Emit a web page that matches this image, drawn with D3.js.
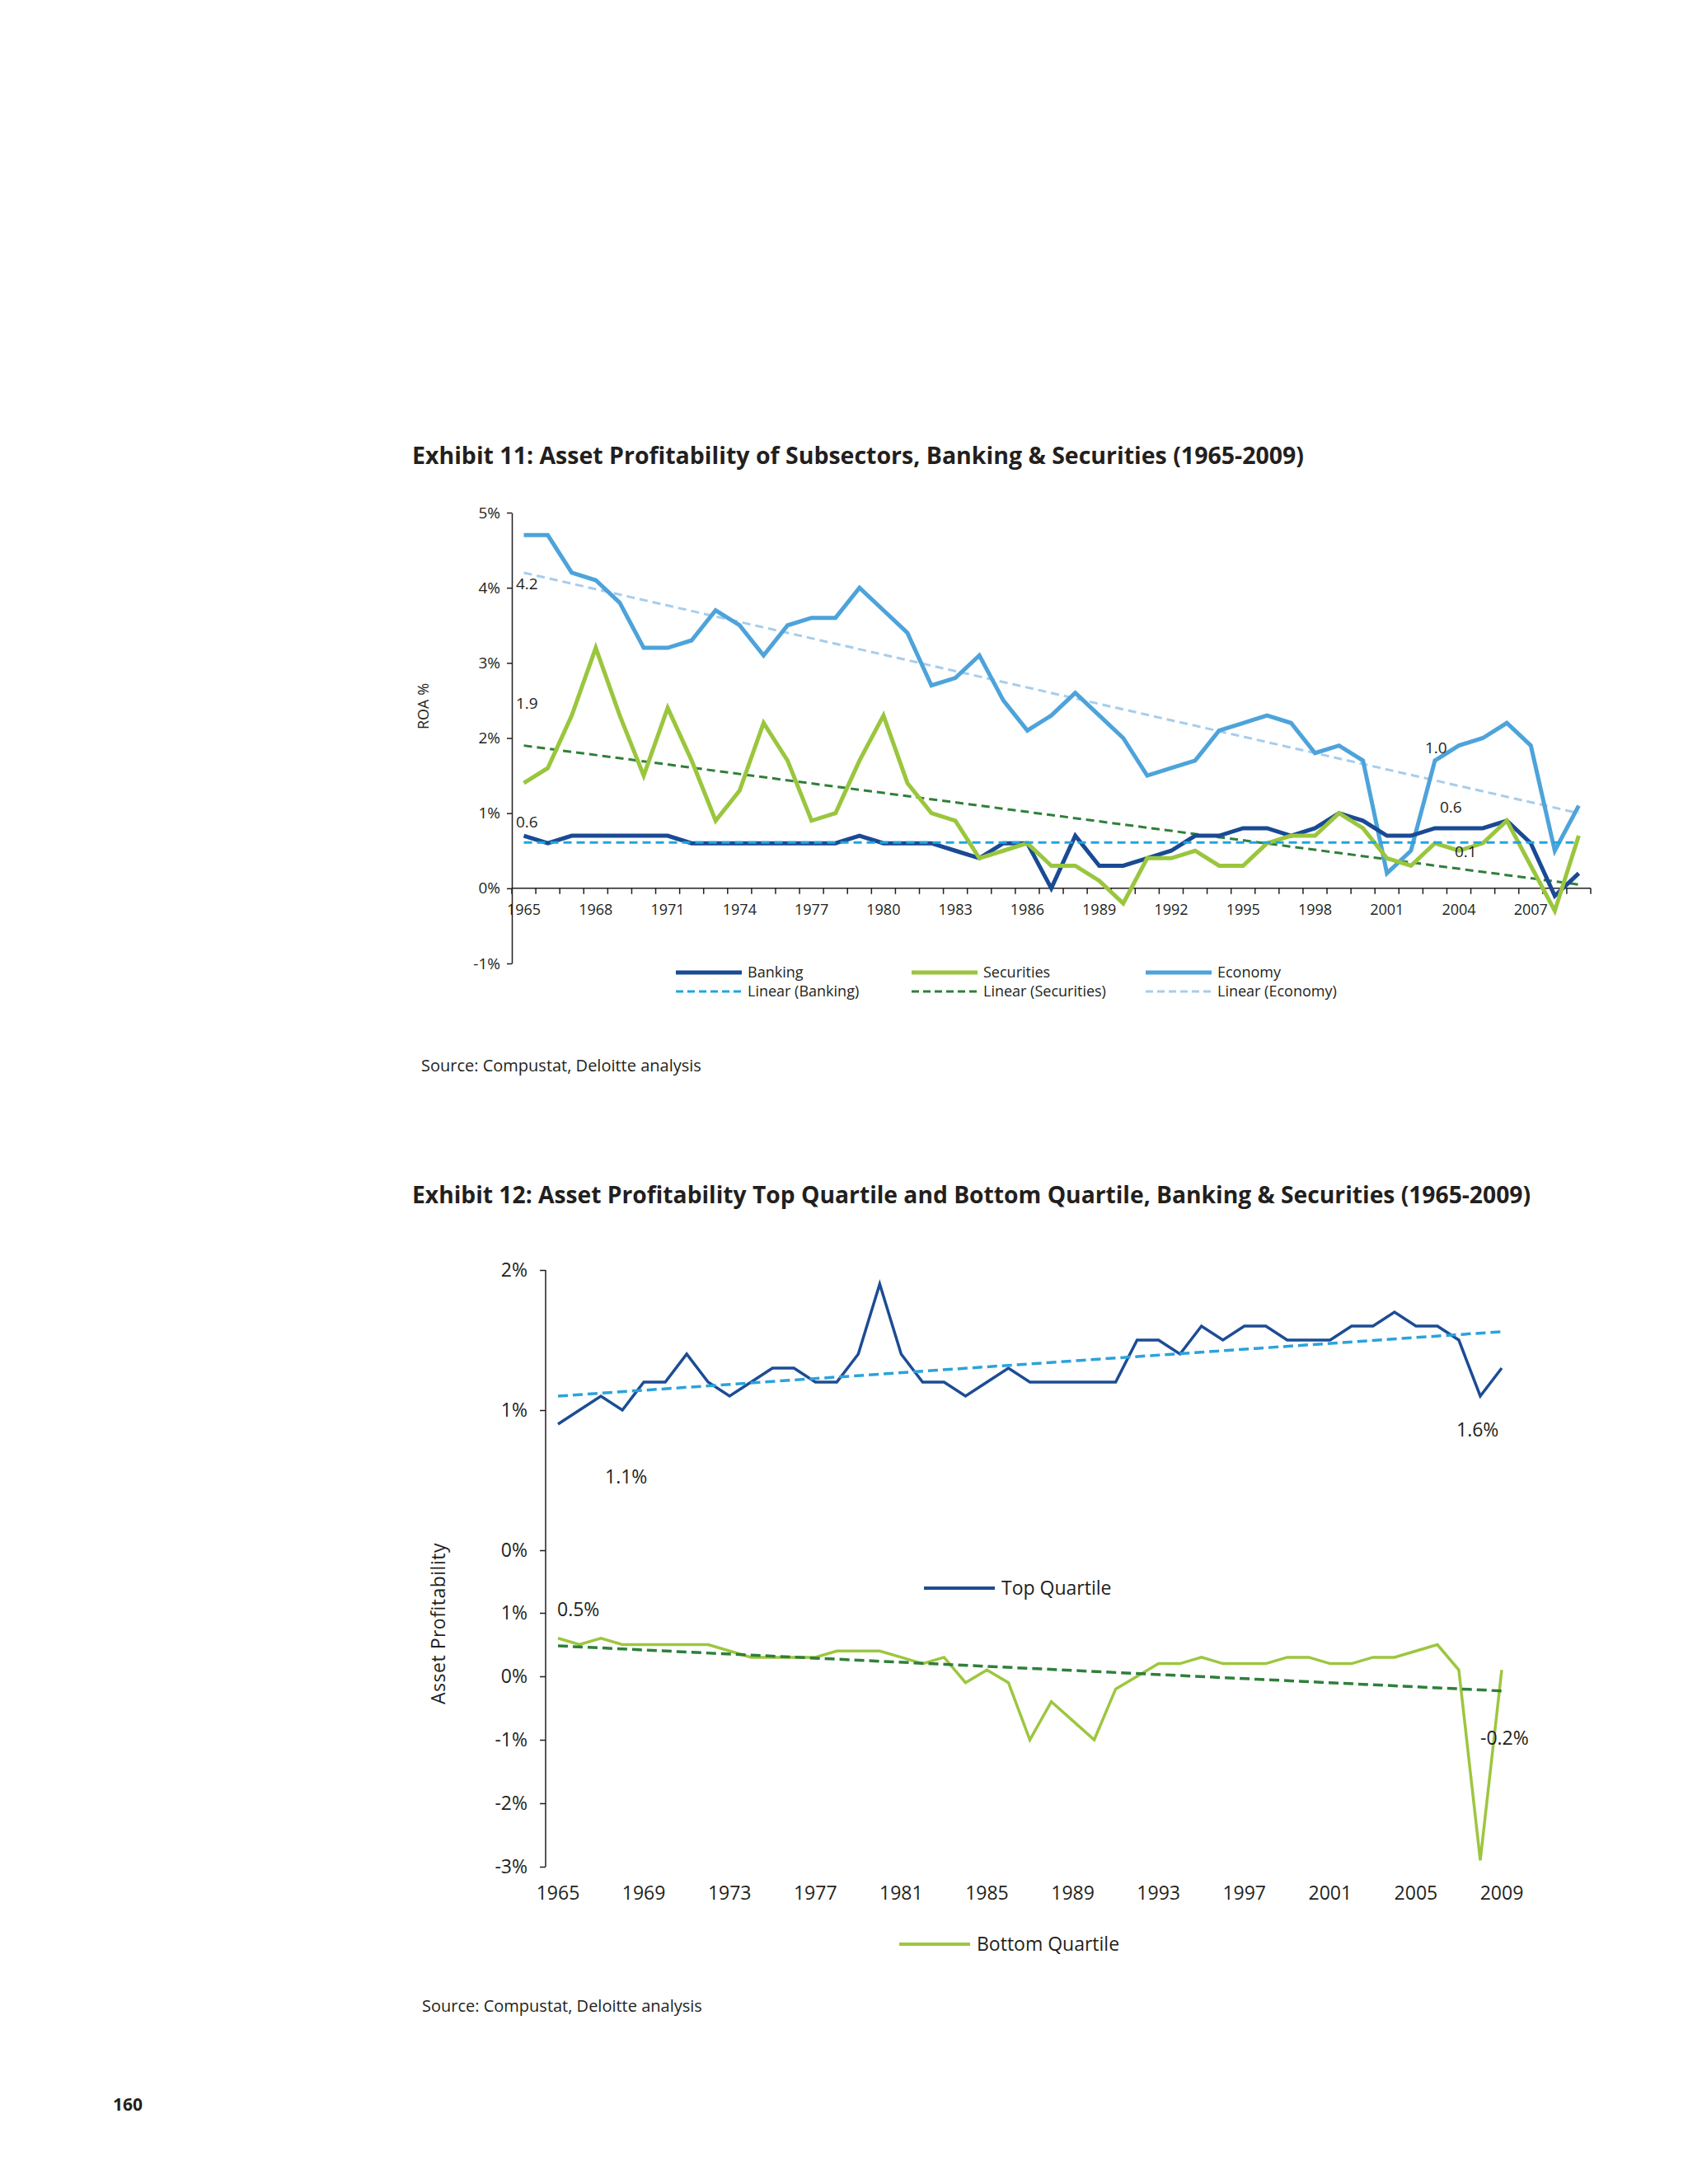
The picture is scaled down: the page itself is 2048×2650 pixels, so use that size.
<!DOCTYPE html>
<html>
<head>
<meta charset="utf-8">
<script src="https://cdn.jsdelivr.net/npm/d3@7/dist/d3.min.js"></script>
<style>
  html, body { margin: 0; padding: 0; background: #ffffff; }
  svg { display: block; }
  text { font-family: "Open Sans", "Liberation Sans", sans-serif; fill: #231f20; }
  .lt { font-weight: 400; }
</style>
</head>
<body>
<script>
// ---------------- DATA ----------------
const years = [1965,1966,1967,1968,1969,1970,1971,1972,1973,1974,
               1975,1976,1977,1978,1979,1980,1981,1982,1983,1984,
               1985,1986,1987,1988,1989,1990,1991,1992,1993,1994,
               1995,1996,1997,1998,1999,2000,2001,2002,2003,2004,
               2005,2006,2007,2008,2009];

// Exhibit 11 (ROA %)
const banking = [0.7,0.6,0.7,0.7,0.7,0.7,0.7,0.6,0.6,0.6,
                 0.6,0.6,0.6,0.6,0.7,0.6,0.6,0.6,0.5,0.4,
                 0.6,0.6,0.0,0.7,0.3,0.3,0.4,0.5,0.7,0.7,
                 0.8,0.8,0.7,0.8,1.0,0.9,0.7,0.7,0.8,0.8,
                 0.8,0.9,0.6,-0.1,0.2];
const securities = [1.4,1.6,2.3,3.2,2.3,1.5,2.4,1.7,0.9,1.3,
                    2.2,1.7,0.9,1.0,1.7,2.3,1.4,1.0,0.9,0.4,
                    0.5,0.6,0.3,0.3,0.1,-0.2,0.4,0.4,0.5,0.3,
                    0.3,0.6,0.7,0.7,1.0,0.8,0.4,0.3,0.6,0.5,
                    0.6,0.9,0.3,-0.3,0.7];
const economy = [4.7,4.7,4.2,4.1,3.8,3.2,3.2,3.3,3.7,3.5,
                 3.1,3.5,3.6,3.6,4.0,3.7,3.4,2.7,2.8,3.1,
                 2.5,2.1,2.3,2.6,2.3,2.0,1.5,1.6,1.7,2.1,
                 2.2,2.3,2.2,1.8,1.9,1.7,0.2,0.5,1.7,1.9,
                 2.0,2.2,1.9,0.5,1.1];
// linear trend end points (1965, 2009)
const bankingTrend = [0.61, 0.61];
const securitiesTrend = [1.9, 0.05];
const economyTrend = [4.2, 1.0];
const roaTicks = [-1,0,1,2,3,4,5];
const yearLabels11 = [1965,1968,1971,1974,1977,1980,1983,1986,1989,1992,1995,1998,2001,2004,2007];

// Exhibit 12 (Asset profitability %)
const topQuartile = [0.9,1.0,1.1,1.0,1.2,1.2,1.4,1.2,1.1,1.2,
                     1.3,1.3,1.2,1.2,1.4,1.9,1.4,1.2,1.2,1.1,
                     1.2,1.3,1.2,1.2,1.2,1.2,1.2,1.5,1.5,1.4,
                     1.6,1.5,1.6,1.6,1.5,1.5,1.5,1.6,1.6,1.7,
                     1.6,1.6,1.5,1.1,1.3];
const bottomQuartile = [0.6,0.5,0.6,0.5,0.5,0.5,0.5,0.5,0.4,0.3,
                        0.3,0.3,0.3,0.4,0.4,0.4,0.3,0.2,0.3,-0.1,
                        0.1,-0.1,-1.0,-0.4,-0.7,-1.0,-0.2,0.0,0.2,0.2,
                        0.3,0.2,0.2,0.2,0.3,0.3,0.2,0.2,0.3,0.3,
                        0.4,0.5,0.1,-2.9,0.1];
const topTrend = [1.1, 1.56];
const bottomTrend = [0.48, -0.23];
const topTicks = [0,1,2];
const bottomTicks = [-3,-2,-1,0,1];
const yearLabels12 = [1965,1969,1973,1977,1981,1985,1989,1993,1997,2001,2005,2009];

// ---------------- DRAW ----------------
const W = 2048, H = 2650;
const svg = d3.select("body").append("svg").attr("width", W).attr("height", H);
svg.append("rect").attr("width", W).attr("height", H).attr("fill", "#ffffff");

const C = {
  banking: "#1a4a94", securities: "#9ac63e", economy: "#4da3da",
  linBanking: "#1ea6df", linSecurities: "#2f7f3a", linEconomy: "#a7cdec",
  top: "#1c4c94", topTrend: "#2ba3db", bottom: "#9dc63f", bottomTrend: "#2f7f3a"
};
const pct = d => d + "%";

// ===== Exhibit 11 =====
svg.append("text").attr("x", 500).attr("y", 553).attr("dy", "0.35em")
  .attr("font-size", 28).attr("font-weight", 700)
  .attr("textLength", 1082).attr("lengthAdjust", "spacingAndGlyphs")
  .text("Exhibit 11: Asset Profitability of Subsectors, Banking & Securities (1965-2009)");

const x1 = d3.scaleBand().domain(years).range([621, 1930]).paddingInner(0).paddingOuter(0);
const y1 = d3.scaleLinear().domain([-1, 5]).range([1169, 622]);
const cx1 = d => x1(d) + x1.bandwidth() / 2;

// y axis
const yAx1 = svg.append("g").attr("transform", "translate(621,0)")
  .call(d3.axisLeft(y1).tickValues(roaTicks).tickFormat(pct).tickSize(6).tickSizeOuter(0));
yAx1.select(".domain").attr("stroke", "#231f20").attr("stroke-width", 1.5);
yAx1.selectAll(".tick line").attr("stroke", "#231f20").attr("stroke-width", 1.5);
yAx1.selectAll(".tick text").attr("class", "lt").attr("font-size", 19).attr("x", -14).attr("fill", "#231f20")
  .style("font-family", '"Open Sans", sans-serif');

// x axis at 0%
const xAx1 = svg.append("g").attr("transform", `translate(0,${y1(0)})`);
xAx1.append("line").attr("x1", x1.range()[0]).attr("x2", x1.range()[1])
  .attr("stroke", "#231f20").attr("stroke-width", 1.5);
const edges1 = years.map(d => x1(d)).concat([x1.range()[1]]);
xAx1.selectAll("line.tk").data(edges1).join("line").attr("class", "tk")
  .attr("x1", d => d).attr("x2", d => d).attr("y1", 0).attr("y2", 7)
  .attr("stroke", "#231f20").attr("stroke-width", 1.5);
xAx1.selectAll("text.yl").data(yearLabels11).join("text").attr("class", "yl lt")
  .attr("x", d => cx1(d)).attr("y", 26).attr("dy", "0.35em")
  .attr("text-anchor", "middle").attr("font-size", 18).text(d => d);

svg.append("text").attr("class", "lt").attr("transform", "translate(514,857) rotate(-90)")
  .attr("text-anchor", "middle").attr("dy", "0.35em").attr("font-size", 18).text("ROA %");

const line1 = d3.line().x((d, i) => cx1(years[i])).y(d => y1(d));
const trend1 = arr => [[years[0], arr[0]], [years[years.length - 1], arr[1]]];
const tline1 = d3.line().x(d => cx1(d[0])).y(d => y1(d[1]));

const g1 = svg.append("g");
g1.append("path").datum(trend1(economyTrend)).attr("d", tline1).attr("fill", "none")
  .attr("stroke", C.linEconomy).attr("stroke-width", 3).attr("stroke-dasharray", "10,6");
g1.append("path").datum(trend1(securitiesTrend)).attr("d", tline1).attr("fill", "none")
  .attr("stroke", C.linSecurities).attr("stroke-width", 3).attr("stroke-dasharray", "10,6");
g1.append("path").datum(economy).attr("d", line1).attr("fill", "none")
  .attr("stroke", C.economy).attr("stroke-width", 5).attr("stroke-linejoin", "miter");
g1.append("path").datum(banking).attr("d", line1).attr("fill", "none")
  .attr("stroke", C.banking).attr("stroke-width", 5);
g1.append("path").datum(securities).attr("d", line1).attr("fill", "none")
  .attr("stroke", C.securities).attr("stroke-width", 5);
g1.append("path").datum(trend1(bankingTrend)).attr("d", tline1).attr("fill", "none")
  .attr("stroke", C.linBanking).attr("stroke-width", 3).attr("stroke-dasharray", "10,6");

// annotations
const ann1 = [
  {t: "4.2", x: 626, y: 708},
  {t: "1.9", x: 626, y: 853},
  {t: "0.6", x: 626, y: 997},
  {t: "1.0", x: 1729, y: 907},
  {t: "0.6", x: 1747, y: 979},
  {t: "0.1", x: 1765, y: 1033}
];
svg.selectAll("text.ann1").data(ann1).join("text").attr("class", "ann1 lt")
  .attr("x", d => d.x).attr("y", d => d.y).attr("dy", "0.35em")
  .attr("font-size", 19).text(d => d.t);

// legend 11
const leg1 = [
  {t: "Banking", c: C.banking, dash: null, x: 820, y: 1180},
  {t: "Securities", c: C.securities, dash: null, x: 1106, y: 1180},
  {t: "Economy", c: C.economy, dash: null, x: 1390, y: 1180},
  {t: "Linear (Banking)", c: C.linBanking, dash: "9,5", x: 820, y: 1203},
  {t: "Linear (Securities)", c: C.linSecurities, dash: "9,5", x: 1106, y: 1203},
  {t: "Linear (Economy)", c: C.linEconomy, dash: "9,5", x: 1390, y: 1203}
];
const lg1 = svg.selectAll("g.lg1").data(leg1).join("g").attr("class", "lg1");
lg1.append("line").attr("x1", d => d.x).attr("x2", d => d.x + 80)
  .attr("y1", d => d.y).attr("y2", d => d.y)
  .attr("stroke", d => d.c).attr("stroke-width", d => d.dash ? 3 : 5)
  .attr("stroke-dasharray", d => d.dash);
lg1.append("text").attr("class", "lt").attr("x", d => d.x + 87).attr("y", d => d.y).attr("dy", "0.35em")
  .attr("font-size", 18).text(d => d.t);

svg.append("text").attr("class", "lt").attr("x", 511).attr("y", 1293).attr("dy", "0.35em")
  .attr("font-size", 20).text("Source: Compustat, Deloitte analysis");

// ===== Exhibit 12 =====
svg.append("text").attr("x", 500).attr("y", 1450).attr("dy", "0.35em")
  .attr("font-size", 28).attr("font-weight", 700)
  .attr("textLength", 1357).attr("lengthAdjust", "spacingAndGlyphs")
  .text("Exhibit 12: Asset Profitability Top Quartile and Bottom Quartile, Banking & Securities (1965-2009)");

const x2 = d3.scalePoint().domain(years).range([677, 1822]);
const yTop = d3.scaleLinear().domain([0, 2]).range([1881, 1541]);
const yBot = d3.scaleLinear().domain([-3, 1]).range([2265, 1957]);

const axX2 = 662;
svg.append("line").attr("x1", axX2).attr("x2", axX2).attr("y1", yTop(2)).attr("y2", yBot(-3))
  .attr("stroke", "#231f20").attr("stroke-width", 1.5);
const yAxTop = svg.append("g").attr("transform", `translate(${axX2},0)`)
  .call(d3.axisLeft(yTop).tickValues(topTicks).tickFormat(pct).tickSize(7).tickSizeOuter(0));
const yAxBot = svg.append("g").attr("transform", `translate(${axX2},0)`)
  .call(d3.axisLeft(yBot).tickValues(bottomTicks).tickFormat(pct).tickSize(7).tickSizeOuter(0));
[yAxTop, yAxBot].forEach(g => {
  g.select(".domain").remove();
  g.selectAll(".tick line").attr("stroke", "#231f20").attr("stroke-width", 1.5);
  g.selectAll(".tick text").attr("class", "lt").attr("font-size", 23).attr("x", -22).attr("fill", "#231f20")
    .style("font-family", '"Open Sans", sans-serif');
});

svg.selectAll("text.yl2").data(yearLabels12).join("text").attr("class", "yl2 lt")
  .attr("x", d => x2(d)).attr("y", 2297).attr("dy", "0.35em")
  .attr("text-anchor", "middle").attr("font-size", 23).text(d => d);

svg.append("text").attr("class", "lt").attr("transform", "translate(532,1970) rotate(-90)")
  .attr("text-anchor", "middle").attr("dy", "0.35em").attr("font-size", 23)
  .attr("letter-spacing", 0.5).text("Asset Profitability");

const lineTop = d3.line().x((d, i) => x2(years[i])).y(d => yTop(d));
const lineBot = d3.line().x((d, i) => x2(years[i])).y(d => yBot(d));
const trendPts = arr => [[years[0], arr[0]], [years[years.length - 1], arr[1]]];

svg.append("path").datum(topQuartile).attr("d", lineTop).attr("fill", "none")
  .attr("stroke", C.top).attr("stroke-width", 3.5);
svg.append("path").datum(trendPts(topTrend))
  .attr("d", d3.line().x(d => x2(d[0])).y(d => yTop(d[1])))
  .attr("fill", "none").attr("stroke", C.topTrend).attr("stroke-width", 3.5)
  .attr("stroke-dasharray", "12,6");

svg.append("path").datum(bottomQuartile).attr("d", lineBot).attr("fill", "none")
  .attr("stroke", C.bottom).attr("stroke-width", 3.5);
svg.append("path").datum(trendPts(bottomTrend))
  .attr("d", d3.line().x(d => x2(d[0])).y(d => yBot(d[1])))
  .attr("fill", "none").attr("stroke", C.bottomTrend).attr("stroke-width", 3.5)
  .attr("stroke-dasharray", "12,6");

const ann2 = [
  {t: "1.1%", x: 734, y: 1792},
  {t: "1.6%", x: 1767, y: 1735},
  {t: "0.5%", x: 676, y: 1953},
  {t: "-0.2%", x: 1796, y: 2109}
];
svg.selectAll("text.ann2").data(ann2).join("text").attr("class", "ann2 lt")
  .attr("x", d => d.x).attr("y", d => d.y).attr("dy", "0.35em")
  .attr("font-size", 23).text(d => d.t);

const leg2 = [
  {t: "Top Quartile", c: C.top, x: 1121, y: 1927},
  {t: "Bottom Quartile", c: C.bottom, x: 1091, y: 2359}
];
const lg2 = svg.selectAll("g.lg2").data(leg2).join("g").attr("class", "lg2");
lg2.append("line").attr("x1", d => d.x).attr("x2", d => d.x + 86)
  .attr("y1", d => d.y).attr("y2", d => d.y)
  .attr("stroke", d => d.c).attr("stroke-width", 4);
lg2.append("text").attr("class", "lt").attr("x", d => d.x + 94).attr("y", d => d.y).attr("dy", "0.35em")
  .attr("font-size", 23).text(d => d.t);

svg.append("text").attr("class", "lt").attr("x", 512).attr("y", 2434).attr("dy", "0.35em")
  .attr("font-size", 20).text("Source: Compustat, Deloitte analysis");

svg.append("text").attr("x", 137).attr("y", 2554).attr("dy", "0.35em")
  .attr("font-size", 21).attr("font-weight", 700).text("160");
</script>
</body>
</html>
